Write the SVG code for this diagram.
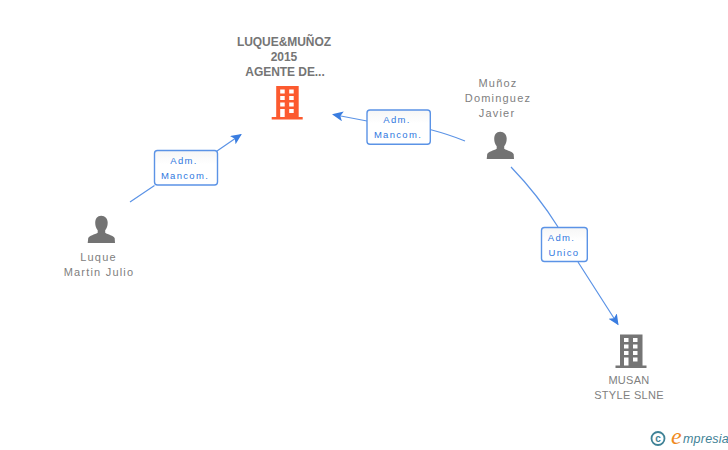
<svg xmlns="http://www.w3.org/2000/svg" width="728" height="450" viewBox="0 0 728 450">
<style>
text{font-family:"Liberation Sans",Arial,sans-serif;text-anchor:middle}
.n{font-size:11px;fill:#808080;letter-spacing:1.2px}
.c{font-size:11px;fill:#808080;letter-spacing:.3px}
.t{font-size:12px;font-weight:bold;fill:#757575;letter-spacing:-.05px}
.l{font-size:9.500px;fill:#2f78e0;letter-spacing:1.3px}
.e{fill:none;stroke:#5b93e6;stroke-width:1.200}
.b{fill:url(#g);stroke:#5b93e6;stroke-width:1.400}
.w{fill:#fff}
</style>
<defs>
<linearGradient id="g" x1="0" y1="0" x2="0" y2="1"><stop offset="0" stop-color="#f6f6f6"/><stop offset=".4" stop-color="#fff"/></linearGradient>
<marker id="a" markerWidth="14" markerHeight="12" refX="10" refY="5" orient="auto" markerUnits="userSpaceOnUse"><path d="M0 0L11 5L0 10L2.500 5Z" fill="#3a7de0"/></marker>
<g id="person"><path d="M13.500 0C9.500 0 7.500 3 7.500 7C7.500 10 8.500 12.500 10 14.500V17C7 19 1.500 19.500 .5 22.500L0 27.300H27.300L27 22.500C26 19.500 20 19 17.500 17V14.500C19 12.500 20 10 20 7C20 3 17.500 0 13.500 0Z" fill="#737373"/></g>
<g id="building">
<rect x="4.500" y="0" width="22.500" height="31.500"/><rect x="0" y="31" width="31" height="2.500"/>
<g class="w"><rect x="8.500" y="3.500" width="4.500" height="4"/><rect x="17.500" y="3.500" width="4.500" height="4"/><rect x="8.500" y="10" width="4.500" height="4"/><rect x="17.500" y="10" width="4.500" height="4"/><rect x="8.500" y="16.500" width="4.500" height="4"/><rect x="17.500" y="16.500" width="4.500" height="4"/><rect x="8.500" y="23" width="4.500" height="8"/><rect x="17.500" y="23" width="4.500" height="4"/></g>
</g>
</defs>
<rect width="728" height="450" fill="#fff"/>
<g id="connectors">
<path class="e" d="M130 202L154.500 185.500M217 151L241 134.500" marker-end="url(#a)"/>
<path class="e" d="M465 141Q449 134.500 430 129.500M367 121L333 114.500" marker-end="url(#a)"/>
<path class="e" d="M511 167Q538 195 558 227M578 262L618 324.500" marker-end="url(#a)"/>
</g>
<g id="label1"><rect class="b" x="154.500" y="150.500" width="63" height="34.500" rx="3"/><text class="l" x="184" y="164">Adm.</text><text class="l" x="185" y="179">Mancom.</text></g>
<g id="label2"><rect class="b" x="367" y="110" width="63.300" height="34.300" rx="3"/><text class="l" x="397" y="123">Adm.</text><text class="l" x="398" y="138">Mancom.</text></g>
<g id="label3"><rect class="b" x="541.500" y="227.500" width="45.800" height="34" rx="3"/><text class="l" x="561.500" y="241">Adm.</text><text class="l" x="564" y="256">Unico</text></g>
<g id="node-luque-munoz"><text class="t" x="284" y="46">LUQUE&amp;MUÑOZ</text><text class="t" x="284" y="61">2015</text><text class="t" x="285" y="76">AGENTE DE...</text><use href="#building" x="271.700" y="86" fill="#fc5a2f"/></g>
<g id="node-munoz"><text class="n" x="498" y="87">Muñoz</text><text class="n" x="498" y="102">Dominguez</text><text class="n" x="497" y="117">Javier</text><use href="#person" x="486.700" y="131.700"/></g>
<g id="node-luque-martin"><use href="#person" x="87.700" y="215.700"/><text class="n" x="98.500" y="261">Luque</text><text class="n" x="99" y="276">Martin Julio</text></g>
<g id="node-musan"><use href="#building" x="615.500" y="334.500" fill="#757575"/><text class="c" x="629" y="384">MUSAN</text><text class="c" x="629" y="399">STYLE SLNE</text></g>
<g id="logo"><circle cx="658" cy="438.500" r="6.500" fill="none" stroke="#3f8296" stroke-width="1.800"/><text x="658" y="442" style="font-size:10px;fill:#3f8296;font-weight:bold">c</text>
<text x="671" y="444" style="text-anchor:start;font-family:'Liberation Serif',serif;font-style:italic;font-size:24px;fill:#f08a1d">e</text>
<text x="683" y="443" style="text-anchor:start;font-family:'Liberation Sans',sans-serif;font-style:italic;font-size:12.500px;fill:#3f8296;letter-spacing:.2px">mpresia</text></g>
</svg>
